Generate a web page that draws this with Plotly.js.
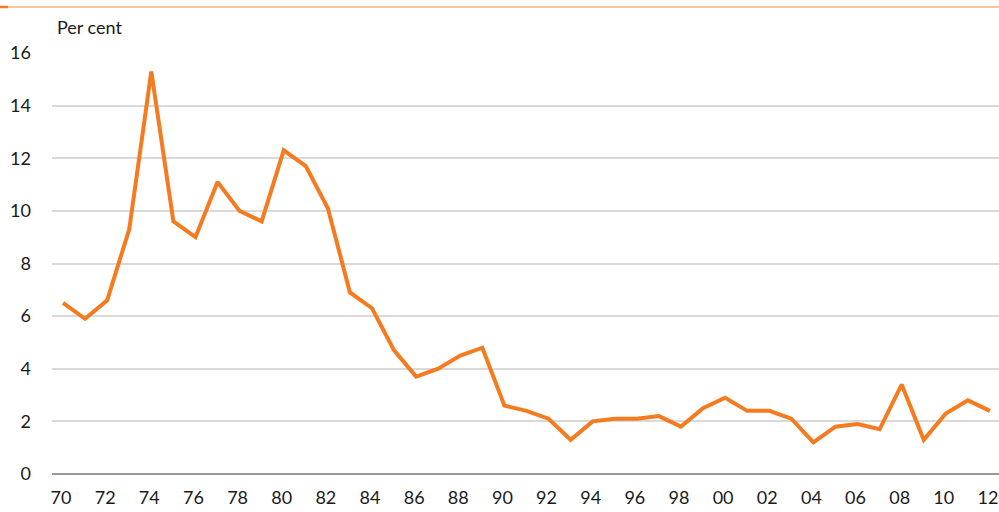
<!DOCTYPE html>
<html>
<head>
<meta charset="utf-8">
<script src="https://cdn.plot.ly/plotly-3.0.1.min.js"></script>
<style>html,body{margin:0;padding:0;background:#fff;}#chart{width:999px;height:512px;}</style>
</head>
<body>
<div id="chart"></div>
<script>
const years = [1970,1971,1972,1973,1974,1975,1976,1977,1978,1979,1980,1981,1982,1983,1984,1985,1986,1987,1988,1989,1990,1991,1992,1993,1994,1995,1996,1997,1998,1999,2000,2001,2002,2003,2004,2005,2006,2007,2008,2009,2010,2011,2012];
const values = [6.5,5.9,6.6,9.3,15.3,9.6,9.0,11.1,10.0,9.6,12.3,11.7,10.1,6.9,6.3,4.7,3.7,4.0,4.5,4.8,2.6,2.4,2.1,1.3,2.0,2.1,2.1,2.2,1.8,2.5,2.9,2.4,2.4,2.1,1.2,1.8,1.9,1.7,3.4,1.3,2.3,2.8,2.4];
const xTickVals = [1970,1972,1974,1976,1978,1980,1982,1984,1986,1988,1990,1992,1994,1996,1998,2000,2002,2004,2006,2008,2010,2012];
const xTickText = ["70","72","74","76","78","80","82","84","86","88","90","92","94","96","98","00","02","04","06","08","10","12"];
const yTickVals = [0,2,4,6,8,10,12,14,16];
const yLabel = "Per cent";

const font = {family: "Lato, sans-serif", size: 18, color: "#1a1a1a"};
const L = 52, T = 53, W = 999 - L, H = 474 - T;

Plotly.newPlot("chart", [{
  x: years, y: values, type: "scatter", mode: "lines",
  line: {color: "#f47b20", width: 4}, hoverinfo: "skip"
}], {
  width: 999, height: 512,
  margin: {l: L, r: 0, t: T, b: 512 - 474, pad: 0},
  paper_bgcolor: "#fff", plot_bgcolor: "#fff",
  showlegend: false,
  font: font,
  xaxis: {
    range: [1969.5, 2012.41], tickvals: xTickVals, ticktext: xTickText,
    showgrid: false, zeroline: false, showline: false, ticks: "",
    tickfont: font, ticklabelstandoff: 11, ticklabeloverflow: "allow",
    ticklabelshift: -2
  },
  yaxis: {
    range: [0, 16], tickvals: yTickVals, showgrid: true,
    gridcolor: "#d9d9d9", gridwidth: 2, zeroline: true, zerolinecolor: "#999",
    zerolinewidth: 2, showline: false, ticks: "", tickfont: font,
    ticklabelstandoff: 20
  },
  shapes: [
    {type: "line", xref: "paper", yref: "paper", x0: -L / W, x1: 1, y0: (474 - 7) / H, y1: (474 - 7) / H,
     line: {color: "#f28c40", width: 1.2}},
    {type: "line", xref: "paper", yref: "paper", x0: -L / W, x1: (8 - L) / W, y0: (474 - 7) / H, y1: (474 - 7) / H,
     line: {color: "#f47b20", width: 2.5}}
  ],
  annotations: [{
    text: yLabel, xref: "paper", yref: "paper", x: (55 - L) / W, y: (474 - 27) / H,
    xanchor: "left", yanchor: "middle", showarrow: false, font: font
  }]
}, {staticPlot: true, displayModeBar: false});
</script>
</body>
</html>
